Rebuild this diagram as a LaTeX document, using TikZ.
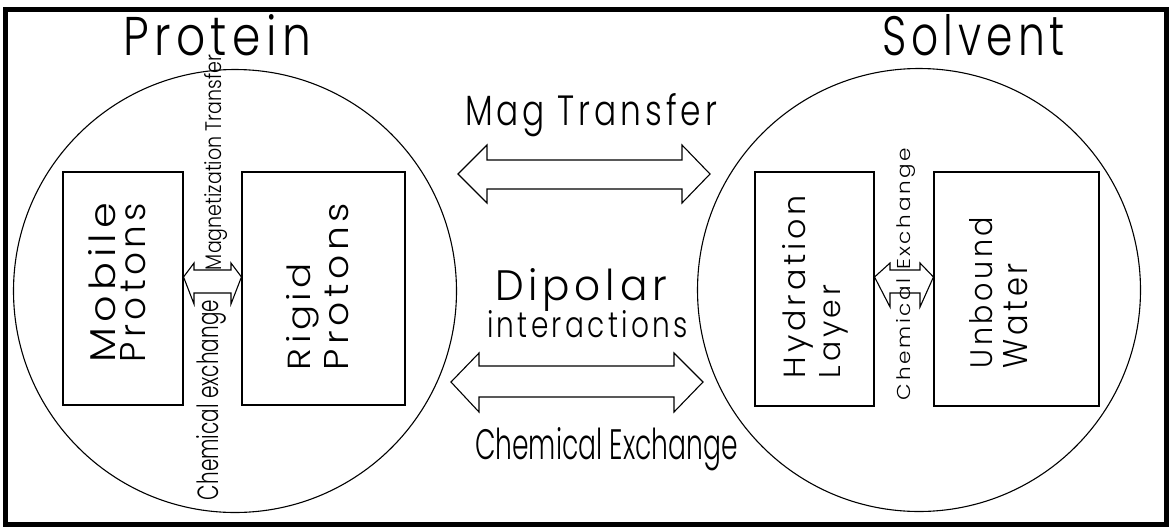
\documentclass[tikz,border=0pt]{standalone}
\usepackage{fontspec}
\setmainfont{Poppins Light}
\newfontfamily\spaced{Poppins Light}[LetterSpace=12]

% text box squeezed or stretched to a given length and ascent (in pt)
\newcommand{\fittxt}[3]{\resizebox{#1pt}{#2pt}{#3}}

\begin{document}
\begin{tikzpicture}[x=1pt, y=-1pt,
    thinline/.style={line width=1.1pt, black},
    lbl/.style={inner sep=0pt, outer sep=0pt, anchor=base west, font=\spaced},
    narrow/.style={lbl, font=\normalfont},
    vlbl/.style={lbl, rotate=90},
    vnarrow/.style={narrow, rotate=90},
    pool/.style={thinline, draw, circle, inner sep=0pt},
    compartment/.style={thinline, draw, rectangle, inner sep=0pt},
    bigarrow/.style={thinline, line join=miter},
  ]
  \useasboundingbox (0,0) rectangle (1173,531);

  % outer frame
  \draw[line width=5pt] (5,9) rectangle (1166,524);

  % the two pools
  \node[pool, minimum size=443pt] (protein) at (235,291) {};
  \node[pool, minimum size=443pt] (solvent) at (919,290) {};

  % compartments inside the pools
  \node[compartment, minimum width=120pt, minimum height=233pt] (mobile) at (123,288.5) {};
  \node[compartment, minimum width=163pt, minimum height=233pt] (rigid)  at (323.5,288.5) {};
  \node[compartment, minimum width=119pt, minimum height=234pt] (hydration) at (814.5,289) {};
  \node[compartment, minimum width=165pt, minimum height=234pt] (unbound) at (1016.5,289) {};

  % pool-to-pool exchange arrows
  \draw[bigarrow] (458,174) -- (487,145) -- (487,160) -- (682,160) -- (682,145)
    -- (710,174) -- (682,203) -- (682,189) -- (487,189) -- (487,203) -- cycle;
  \draw[bigarrow] (451,382) -- (479,353) -- (479,366) -- (674,366) -- (674,353)
    -- (703,382) -- (674,412) -- (674,397) -- (479,397) -- (479,412) -- cycle;

  % exchange arrows between compartments
  \draw[thinline] (mobile.east |- 0,277) -- (194,263) -- (194,270) -- (231,270) -- (231,263)
    -- (rigid.west |- 0,277) -- (231,304) -- (231,293) -- (194,293) -- (194,304) -- cycle;
  \draw[thinline] (hydration.east |- 0,277) -- (890,263) -- (890,270) -- (920,270) -- (920,263)
    -- (unbound.west |- 0,277) -- (920,307) -- (920,293) -- (890,293) -- (890,307) -- cycle;

  % titles
  \node[lbl] (tprotein) at (123,55) {\fittxt{188}{41}{Protein}};
  \node[lbl] (tsolvent) at (882,55) {\fittxt{183}{41}{Solvent}};

  % labels between the pools
  \node[lbl] (tmag) at (465,125) {\fittxt{252}{32}{Mag Transfer}};
  \node[lbl] (tdip) at (495,300) {\fittxt{172}{32}{Dipolar}};
  \node[lbl] (tint) at (487,337) {\fittxt{201}{27}{interactions}};
  \node[narrow] (tchem) at (475,459) {\fittxt{263}{32}{Chemical Exchange}};

  % compartment labels
  \node[vlbl] (tmob1) at (115,362) {\fittxt{159}{27}{Mobile}};
  \node[vlbl] (tmob2) at (145,362) {\fittxt{159}{25}{Protons}};
  \node[vlbl] (trig1) at (310,370) {\fittxt{107}{24}{Rigid}};
  \node[vlbl] (trig2) at (348,370) {\fittxt{167}{24}{Protons}};
  \node[vlbl] (thyd1) at (805,378) {\fittxt{183}{23}{Hydration}};
  \node[vlbl] (thyd2) at (840,378) {\fittxt{93}{21}{Layer}};
  \node[vlbl] (tunb1) at (992,368) {\fittxt{151}{23}{Unbound}};
  \node[vlbl] (tunb2) at (1027,368) {\fittxt{105}{24}{Water}};

  % labels along the inner exchange arrows
  \node[vnarrow] (tcx) at (218,500) {\fittxt{200}{22}{Chemical exchange}};
  \node[vnarrow] (tmt) at (221,270) {\fittxt{215}{17}{Magnetization Transfer}};
  \node[vlbl] (tcx2) at (910,400) {\fittxt{252}{14}{Chemical Exchange}};
\end{tikzpicture}
\end{document}
